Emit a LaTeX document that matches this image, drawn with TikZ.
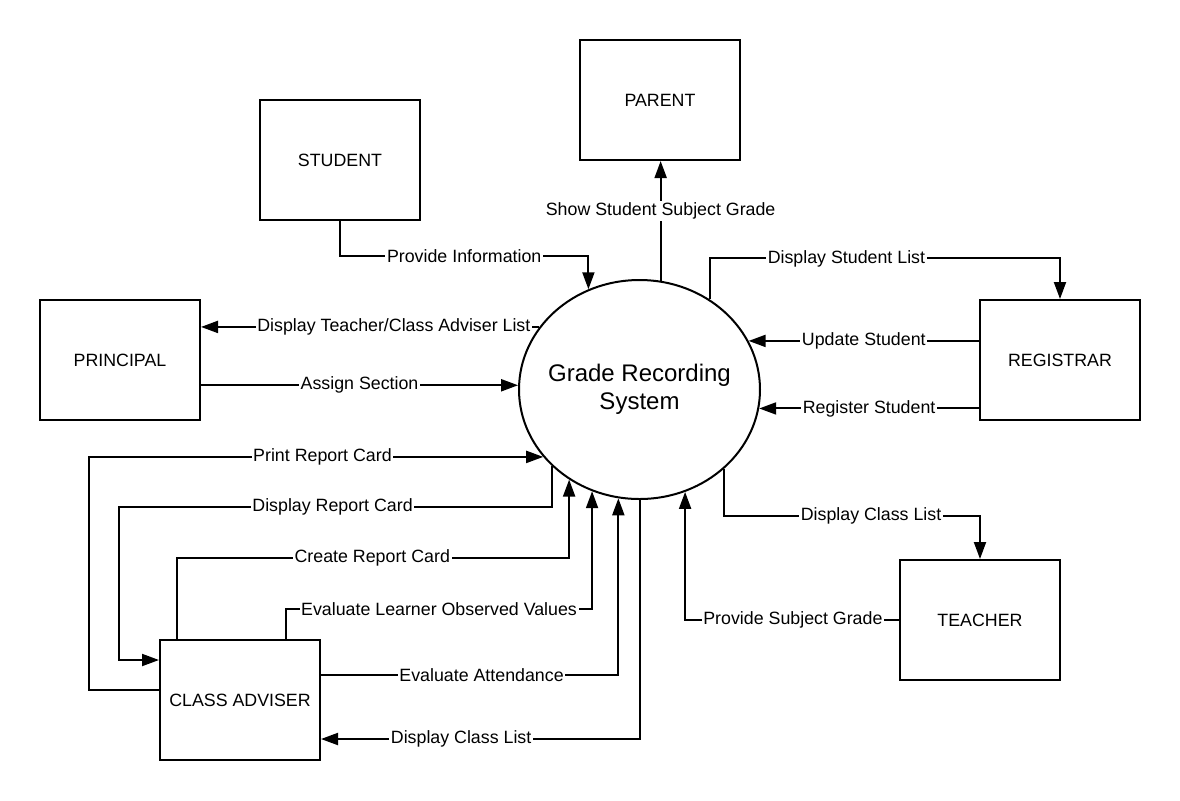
\documentclass[tikz,border=0pt]{standalone}
\usepackage{fontspec}
\setmainfont{Liberation Sans}
\usetikzlibrary{arrows.meta,shapes.geometric}
\begin{document}
\begin{tikzpicture}[x=0.5pt,y=-0.5pt,
	entity/.style={shape=rectangle,draw=black,line width=1pt,minimum width=80pt,minimum height=60pt,font=\fontsize{8.9}{10}\selectfont},
	flow/.style={draw=black,line width=1pt,-{Triangle[length=8.5pt,width=6pt]}},
	lbl/.style={fill=white,inner sep=0.8pt,font=\fontsize{8.9}{10}\selectfont}]
	\useasboundingbox (0,0) rectangle (1180,800);

	\node[shape=ellipse,draw=black,line width=1pt,inner xsep=-5pt,inner ysep=0pt,minimum width=120.5pt,minimum height=109.5pt,align=center,font=\fontsize{12}{14}\selectfont] (grs) at (639.5,389.5) {Grade Recording\\System};
	\node[entity] (par) at (660,100) {PARENT};
	\node[entity] (stu) at (340,160) {STUDENT};
	\node[entity] (pri) at (120,360) {PRINCIPAL};
	\node[entity] (reg) at (1060,360) {REGISTRAR};
	\node[entity] (tea) at (980,620) {TEACHER};
	\node[entity] (cad) at (240,700) {CLASS ADVISER};

	\draw[flow] (stu.south) -- ++(0,35) -| node[lbl,pos=0.25] {Provide Information} (grs.117.5);
	\draw[flow] (grs.79.2) -- node[lbl,pos=0.58] {Show Student Subject Grade} (grs.79.2 |- par.south);
	\draw[flow] (grs.148.9) -- node[lbl,pos=0.43] {Display Teacher/Class Adviser List} (grs.148.9 -| pri.east);
	\draw[flow] (grs.178.8 -| pri.east) -- node[lbl,pos=0.5] {Assign Section} (grs.178.8);
	\draw[flow] (grs.52.7) -- ++(0,-41) -| node[lbl,pos=0.195] {Display Student List} (reg.north);
	\draw[flow] (grs.24.7 -| reg.west) -- node[lbl,pos=0.5] {Update Student} (grs.24.7);
	\draw[flow] (grs.-9.8 -| reg.west) -- node[lbl,pos=0.5] {Register Student} (grs.-9.8);

	\draw[flow] ([yshift=5pt]cad.west) -- ++(-70,0) |- node[lbl,pos=0.757] {Print Report Card} (grs.215.4);
	\draw[flow] (grs.221.4) |- node[lbl,pos=0.753] {Display Report Card} ++(-433,41) |- ([yshift=20pt]cad.west);
	\draw[flow] ([xshift=9pt]cad.north west) -- ++(0,-81) -| node[lbl,pos=0.249] {Create Report Card} (grs.232.1);
	\draw[flow] ([xshift=63.5pt]cad.north west) -- ++(0,-30) -| node[lbl,pos=0.25] {Evaluate Learner Observed Values} (grs.245.3);
	\draw[flow] ([yshift=12.5pt]cad.east) -| node[lbl,pos=0.27] {Evaluate Attendance} (grs.259.2);
	\draw[flow] (grs.south) |- node[lbl,pos=0.78] {Display Class List} ([yshift=-19.5pt]cad.east);

	\draw[flow] (grs.317.3) -- ++(0,47) -| node[lbl,pos=0.287] {Display Class List} (tea.north);
	\draw[flow] (tea.west) -| node[lbl,pos=0.248] {Provide Subject Grade} (grs.294.7);
\end{tikzpicture}
\end{document}
